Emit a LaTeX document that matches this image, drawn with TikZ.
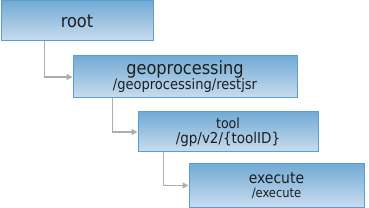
\documentclass[tikz,border=0pt]{standalone}
\usepackage{fontspec}
\setmainfont{DejaVu Sans Condensed}
\usetikzlibrary{positioning,arrows.meta}

\definecolor{boxtop}{HTML}{72ABD4}
\definecolor{boxbot}{HTML}{CADCEF}
\definecolor{boxline}{HTML}{5B9ECF}
\definecolor{linkgray}{HTML}{ADADAD}
\definecolor{txt}{HTML}{1E1E1E}

\newcommand{\headfont}[1]{\fontsize{#1}{#1}\selectfont}

\tikzset{
  res/.style={draw=boxline, line width=1pt, top color=boxtop, bottom color=boxbot,
    anchor=north west, inner sep=0pt, align=center, text=txt},
  link/.style={draw=linkgray, line width=1.5pt, -{Triangle[length=6pt,width=6pt]}}
}

\begin{document}
\begin{tikzpicture}[x=1pt, y=-1pt]

  \useasboundingbox (0,0) rectangle (369,208);

  % --- resource boxes ---
  \node[res, minimum width=152pt, minimum height=40pt] (root) at (0.5,0.5)
    {\headfont{18}root};
  \node[res, minimum width=224pt, minimum height=42pt] (geo) at (72.5,55.5)
    {\headfont{18}geoprocessing\\[-1pt]\headfont{14.5}/geoprocessing/restjsr};
  \node[res, minimum width=180pt, minimum height=40pt] (tool) at (137.5,111.5)
    {\headfont{14}tool\\[3pt]\headfont{15}/gp/v2/\{toolID\}};
  \node[res, minimum width=175pt, minimum height=43pt] (exec) at (188.5,163.5)
    {\headfont{15.5}execute\\[1.5pt]\headfont{12.8}/execute};

  % --- links ---
  \draw[link] (root.south west) ++(44,0) |- (geo.west);
  \draw[link] (geo.south west) ++(40,0) |- (tool.west);
  \draw[link] (tool.south west) ++(26,0) |- (exec.west);

\end{tikzpicture}
\end{document}
